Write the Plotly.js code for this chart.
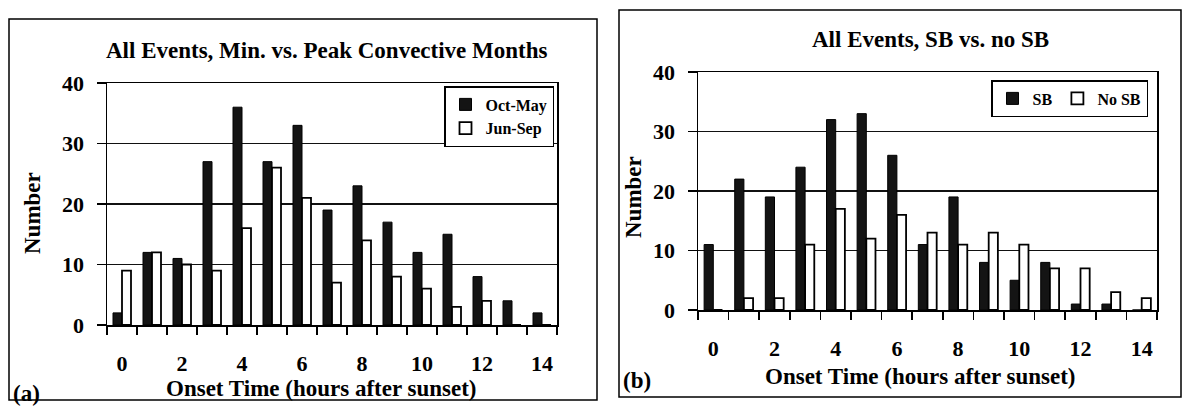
<!DOCTYPE html>
<html>
<head>
<meta charset="utf-8">
<script src="https://cdn.plot.ly/plotly-3.0.1.min.js"></script>
<style>html,body{margin:0;padding:0;background:#fff;}#chart{width:1186px;height:410px;}</style>
</head>
<body>
<div id="chart"></div>
<script>
// ---- data ----
var onsetHours = [0,1,2,3,4,5,6,7,8,9,10,11,12,13,14];
var xTickVals = [0,2,4,6,8,10,12,14];
var yTickVals = [0,10,20,30,40];
var octMay = [2,12,11,27,36,27,33,19,23,17,12,15,8,4,2];
var junSep = [9,12,10,9,16,26,21,7,14,8,6,3,4,0,0];
var sb     = [11,22,19,24,32,33,26,11,19,8,5,8,1,1,0];
var noSb   = [0,2,2,11,17,12,16,13,11,13,11,7,7,3,2];
var titleA = "All Events, Min. vs. Peak Convective Months";
var titleB = "All Events, SB vs. no SB";
var xTitle = "Onset Time (hours after sunset)";
var yTitle = "Number";

// ---- helpers ----
var W = 1186, H = 410;
function px(x){ return x / W; }
function py(y){ return 1 - y / H; }

var FONT = "'Liberation Serif', 'Times New Roman', serif";
var darkBar = {color:'#141414', line:{color:'#000', width:1}};
var whiteBar = {color:'#ffffff', line:{color:'#000', width:1.8}};

var traces = [
  {type:'bar', x:onsetHours, y:octMay, name:'Oct-May', marker:darkBar, xaxis:'x', yaxis:'y', legend:'legend'},
  {type:'bar', x:onsetHours, y:junSep, name:'Jun-Sep', marker:whiteBar, xaxis:'x', yaxis:'y', legend:'legend'},
  {type:'bar', x:onsetHours, y:sb, name:'SB', marker:darkBar, xaxis:'x2', yaxis:'y2', legend:'legend2'},
  {type:'bar', x:onsetHours, y:noSb, name:'No SB', marker:whiteBar, xaxis:'x2', yaxis:'y2', legend:'legend2'}
];

function xAxis(domain, anchor){
  return {
    domain: domain, anchor: anchor, range:[-0.5,14.5],
    tickmode:'array', tickvals:xTickVals, ticks:'',
    ticklabelstandoff: 18,
    tickfont:{size:22, family:FONT, color:'#000', weight:700},
    showline:true, linecolor:'#000', linewidth:1.5, mirror:true,
    showgrid:false, zeroline:false,
    minor:{tick0:-0.5, dtick:1, ticks:'outside', ticklen:8, tickwidth:1.5, tickcolor:'#000', showgrid:false},
    fixedrange:true
  };
}
function yAxis(domain, anchor){
  return {
    domain: domain, anchor: anchor, range:[0,40],
    tickmode:'array', tickvals:yTickVals, ticks:'outside', ticklen:9, tickwidth:1.5, tickcolor:'#000',
    ticklabelstandoff: 8,
    tickfont:{size:22, family:FONT, color:'#000', weight:700},
    showline:true, linecolor:'#000', linewidth:1.5, mirror:true,
    showgrid:true, gridcolor:'#111', gridwidth:1.3, zeroline:false,
    fixedrange:true
  };
}

function ann(text, x, y, size, opts){
  var a = {text:text, x:px(x), y:py(y), xref:'paper', yref:'paper', showarrow:false,
    xanchor:'center', yanchor:'middle', font:{size:size, family:FONT, color:'#000', weight:700}};
  for (var k in (opts||{})) a[k] = opts[k];
  return a;
}

var layout = {
  width:W, height:H, margin:{l:0,r:0,t:0,b:0},
  paper_bgcolor:'#fff', plot_bgcolor:'#fff',
  font:{family:FONT, color:'#000', weight:700},
  barmode:'group', bargap:0.4, bargroupgap:0,
  xaxis: xAxis([px(107), px(557)], 'y'),
  yaxis: yAxis([py(325), py(83)], 'x'),
  xaxis2: xAxis([px(698), px(1157)], 'y2'),
  yaxis2: yAxis([py(310), py(72)], 'x2'),
  legend:{x:px(554), y:py(86), xanchor:'right', yanchor:'top', bgcolor:'#fff',
    bordercolor:'#000', borderwidth:1.5, font:{size:16, family:FONT, color:'#000', weight:700},
    itemwidth:30, tracegroupgap:0},
  legend2:{x:px(1148), y:py(80), xanchor:'right', yanchor:'top', orientation:'h', bgcolor:'#fff',
    bordercolor:'#000', borderwidth:1.5, font:{size:16, family:FONT, color:'#000', weight:700},
    itemwidth:30},
  showlegend:true,
  shapes:[
    {type:'rect', xref:'paper', yref:'paper', x0:px(9), x1:px(597), y0:py(400), y1:py(19), line:{color:'#000', width:1.5}},
    {type:'rect', xref:'paper', yref:'paper', x0:px(619), x1:px(1181), y0:py(397), y1:py(10), line:{color:'#000', width:1.5}}
  ],
  annotations:[
    ann(titleA, 327, 50, 23),
    ann(titleB, 930, 40, 23),
    ann(xTitle, 321, 388, 23),
    ann(xTitle, 920, 376, 23),
    ann(yTitle, 32, 213, 23, {textangle:-90}),
    ann(yTitle, 633, 197, 23, {textangle:-90}),
    ann('(a)', 11, 393, 23, {xanchor:'left'}),
    ann('(b)', 621, 380, 23, {xanchor:'left'})
  ]
};

Plotly.newPlot('chart', traces, layout, {staticPlot:true, displayModeBar:false});
</script>
</body>
</html>
